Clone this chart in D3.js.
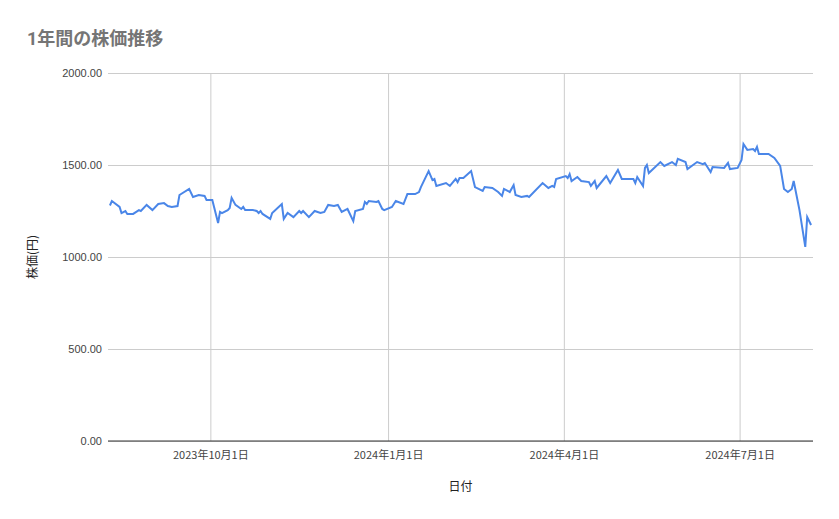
<!DOCTYPE html>
<html><head><meta charset="utf-8">
<script src="https://cdn.jsdelivr.net/npm/d3@7"></script>
<style>
body{margin:0;background:#fff;font-family:Roboto,"Noto Sans CJK JP",sans-serif;}
.grid line{stroke:#cccccc;}
.grid path{display:none;}
.tick text{fill:#444;font-size:11px;}
</style></head><body><div id="chart"></div>
<script>
// days offset from 2023-10-01 and closing price
const dayOffsets = [-52,-51,-47,-46,-44,-43,-40,-37,-36,-33,-30,-27,-24,-22,-20,-17,-16,-11,-9,-6,-3,-2,1,4,5,6,9,10,11,13,16,17,18,22,24,25,26,27,31,32,37,38,40,43,46,47,48,51,54,57,59,61,64,66,68,71,72,74,75,79,80,81,82,86,87,89,90,94,96,100,102,106,108,109,113,115,116,117,122,124,127,128,129,131,135,137,141,142,146,149,151,152,155,157,158,161,164,165,172,175,177,178,179,184,185,186,187,190,192,196,197,199,200,205,207,211,213,219,220,221,224,225,226,227,233,235,239,241,242,246,247,252,255,256,259,260,266,268,269,273,275,276,278,281,282,283,284,289,292,295,297,299,301,302,305,308,309,311];
const prices = [1280,1304,1272,1239,1250,1234,1234,1255,1250,1283,1255,1288,1293,1277,1272,1277,1337,1370,1326,1337,1332,1310,1310,1185,1245,1239,1255,1266,1321,1283,1261,1272,1255,1255,1250,1239,1250,1234,1207,1239,1288,1207,1239,1217,1250,1239,1250,1217,1250,1239,1245,1283,1277,1283,1245,1261,1239,1195,1250,1261,1299,1288,1304,1299,1304,1261,1255,1272,1304,1288,1342,1342,1353,1380,1467,1418,1424,1386,1402,1386,1424,1407,1429,1429,1467,1380,1359,1380,1375,1353,1332,1370,1353,1391,1337,1326,1332,1326,1402,1375,1386,1380,1424,1440,1429,1451,1413,1435,1413,1407,1386,1413,1375,1440,1402,1473,1424,1424,1402,1435,1386,1484,1500,1456,1516,1495,1516,1500,1533,1516,1478,1516,1505,1511,1462,1489,1484,1511,1478,1484,1527,1614,1582,1587,1576,1598,1560,1560,1538,1495,1370,1353,1370,1413,1255,1055,1217,1174];
const yTicks = [0,500,1000,1500,2000];
const xTickDates = ["2023-10-01","2024-01-01","2024-04-01","2024-07-01"];
const chartTitle = "1年間の株価推移", yLabel = "株価(円)", xLabel = "日付";

const W = 839, H = 519;
const margin = {top:73, right:26, bottom:78, left:108};
const w = W - margin.left - margin.right, h = H - margin.top - margin.bottom;
const base = new Date(2023, 9, 1);
const data = dayOffsets.map((d,i) => ({date: d3.timeDay.offset(base, d), v: prices[i]}));

const svg = d3.select("#chart").append("svg").attr("width", W).attr("height", H);
svg.append("text").attr("x",27).attr("y",45).attr("fill","#757575")
  .attr("font-size",18).attr("font-weight","bold").text(chartTitle);
const g = svg.append("g").attr("transform",`translate(${margin.left},${margin.top})`);

const x = d3.scaleTime().domain([d3.timeDay.offset(base,-53), d3.timeDay.offset(base,312)]).range([0,w]);
const y = d3.scaleLinear().domain([0,2000]).range([h,0]);

g.append("g").attr("class","grid").call(d3.axisLeft(y).tickValues(yTicks).tickSize(-w).tickFormat(d3.format(".2f")).tickPadding(6))
  .call(s => s.selectAll(".tick text").attr("x",-6));
const xt = xTickDates.map(s => d3.timeParse("%Y-%m-%d")(s));
g.append("g").attr("class","grid").attr("transform",`translate(0,${h})`)
  .call(d3.axisBottom(x).tickValues(xt).tickSize(-h).tickPadding(10)
    .tickFormat(d => `${d.getFullYear()}年${d.getMonth()+1}月${d.getDate()}日`))
  .call(s => s.selectAll(".tick text").attr("font-family","'Noto Sans CJK JP',sans-serif"));
g.append("line").attr("x1",0).attr("x2",w).attr("y1",h).attr("y2",h).attr("stroke","#333");

g.append("path").datum(data).attr("fill","none").attr("stroke","#4a86e8").attr("stroke-width",2)
  .attr("d", d3.line().x(d=>x(d.date)).y(d=>y(d.v)));

svg.append("text").attr("text-anchor","middle").attr("font-size",12).attr("fill","#222")
  .attr("font-family","'Noto Sans CJK JP',sans-serif")
  .attr("transform",`translate(37,${margin.top+h/2}) rotate(-90)`).text(yLabel);
svg.append("text").attr("text-anchor","middle").attr("font-size",12).attr("fill","#222")
  .attr("font-family","'Noto Sans CJK JP',sans-serif")
  .attr("x",margin.left+w/2).attr("y",491).text(xLabel);
</script></body></html>
